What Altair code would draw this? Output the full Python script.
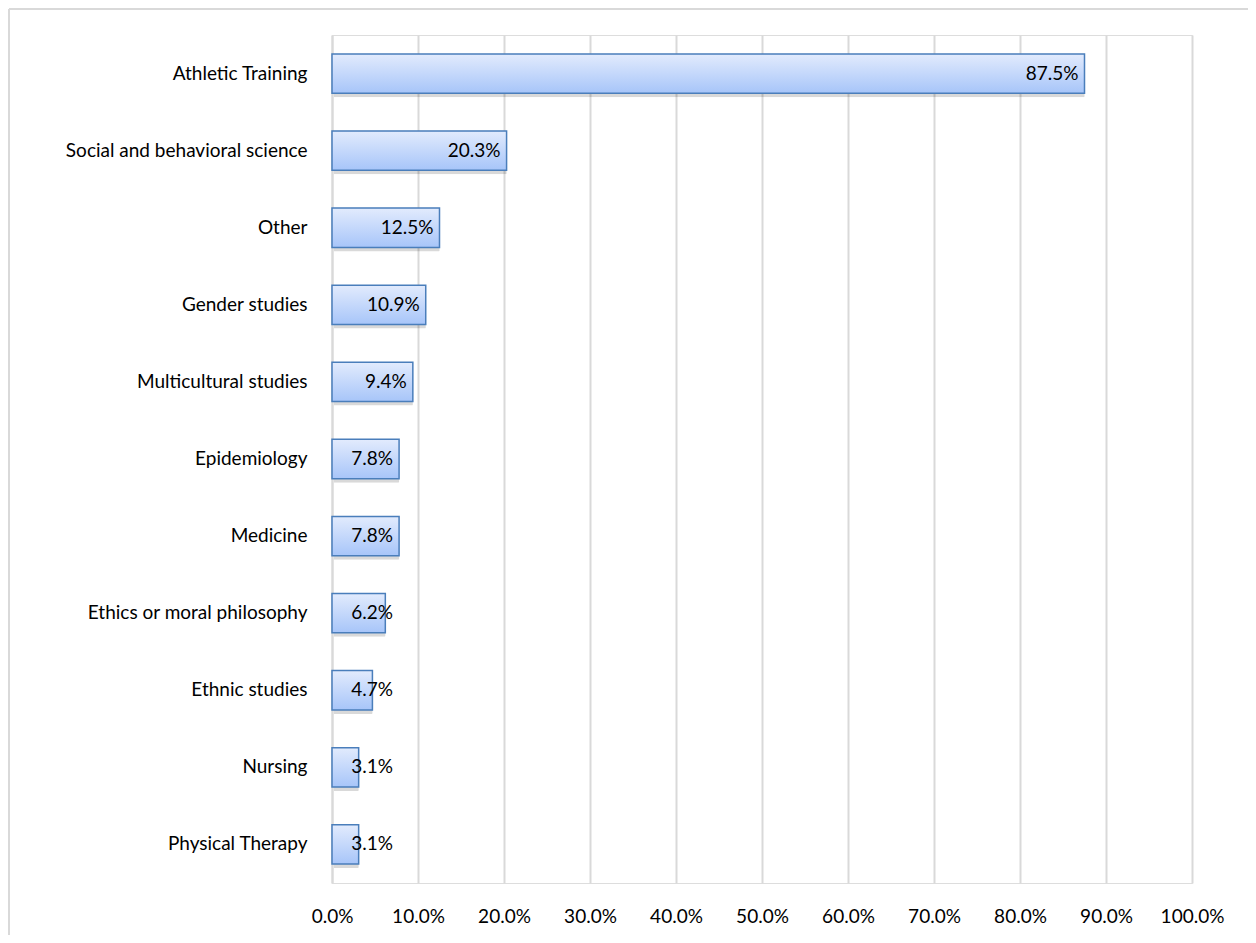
import altair as alt
import pandas as pd

categories = ["Athletic Training", "Social and behavioral science", "Other", "Gender studies",
              "Multicultural studies", "Epidemiology", "Medicine", "Ethics or moral philosophy",
              "Ethnic studies", "Nursing", "Physical Therapy"]
values = [0.875, 0.203, 0.125, 0.109, 0.094, 0.078, 0.078, 0.062, 0.047, 0.031, 0.031]

df = pd.DataFrame({"cat": categories, "val": values})

FONT = "Lato"
FS = 19
W, H = 860, 848

xs = alt.X("val:Q", scale=alt.Scale(domain=[0, 1], nice=False),
           axis=alt.Axis(format=".1%", values=[i / 10 for i in range(11)], title=None,
                         grid=True, gridColor="#d9d9d9", gridWidth=2, ticks=False, domain=False,
                         labelFlush=False, labelFont=FONT, labelFontSize=FS, labelColor="#000000",
                         labelPadding=24))
ys = alt.Y("cat:N", sort=categories,
           scale=alt.Scale(paddingInner=0.49, paddingOuter=0.245),
           axis=alt.Axis(title=None, ticks=False, domain=True, domainColor="#d9d9d9", domainWidth=2,
                         labelFont=FONT, labelFontSize=FS, labelColor="#000000", labelPadding=25,
                         labelLimit=400))

base = alt.Chart(df)

shadow = base.mark_bar(color="#000000", opacity=0.15, xOffset=2, yOffset=4, cornerRadius=1).encode(
    x=xs, y=ys)

grad = alt.LinearGradient(gradient="linear", x1=0, x2=0, y1=0, y2=1,
                          stops=[alt.GradientStop(color="#e2ebfd", offset=0),
                                 alt.GradientStop(color="#a7c5f9", offset=1)])
bars = base.mark_bar(color=grad, stroke="#4a7ebb", strokeWidth=1.5).encode(x=xs, y=ys)

labels = base.transform_calculate(lx="max(datum.val, 0.078)").mark_text(
    align="right", baseline="middle", dx=-6, font=FONT, fontSize=FS, color="#000000"
).encode(x=alt.X("lx:Q"), y=alt.Y("cat:N", sort=categories), text=alt.Text("val:Q", format=".1%"))

border_top = alt.Chart(df).mark_rule(color="#d9d9d9", strokeWidth=2, clip=False).encode(
    x=alt.value(-323), x2=alt.value(1000), y=alt.value(-26))
border_left = alt.Chart(df).mark_rule(color="#d9d9d9", strokeWidth=2, clip=False).encode(
    x=alt.value(-323), y=alt.value(-26), y2=alt.value(1000))

chart = alt.layer(border_top, border_left, shadow, bars, labels).properties(
    width=W, height=H,
    autosize=alt.AutoSizeParams(type="none"),
    padding={"left": 324, "top": 27, "right": 56, "bottom": 52},
).configure_view(stroke=None).configure(background="#ffffff")

chart.save("out.html", embed_options={"renderer": "svg", "actions": False})
